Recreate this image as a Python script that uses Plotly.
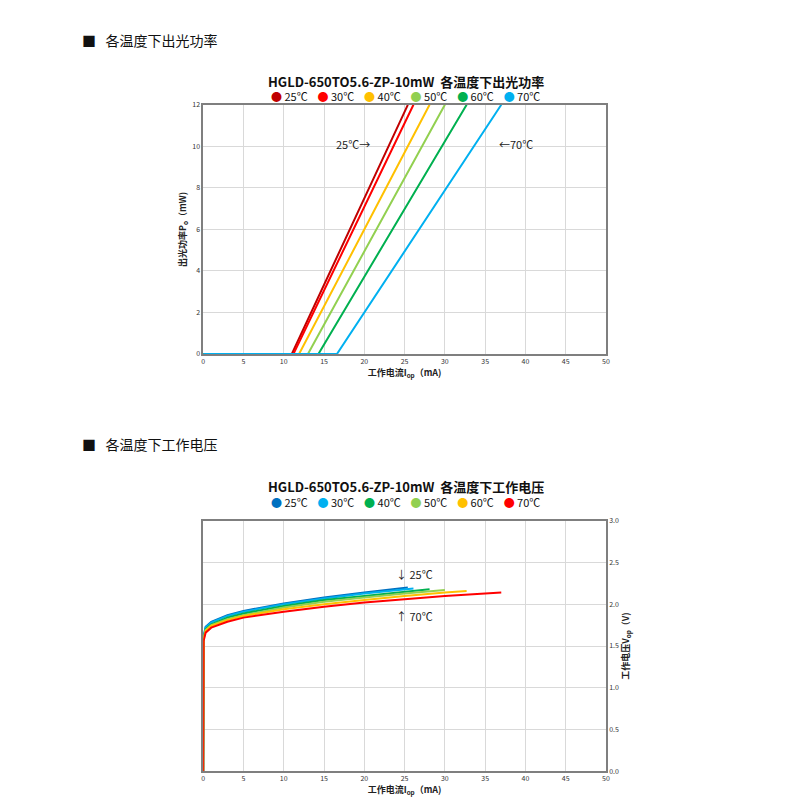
import plotly.graph_objects as go

# --- datos: potencia óptica vs corriente ---
temps = ["25℃", "30℃", "40℃", "50℃", "60℃", "70℃"]
p_colors = ["#c00000", "#ff0000", "#ffc000", "#92d050", "#00b050", "#00b0f0"]
p_thresh = [11.0, 11.2, 11.9, 13.0, 14.3, 16.6]
p_end = [25.4, 26.1, 28.1, 30.0, 32.7, 37.0]
p_max = 12

# --- datos: tensión vs corriente ---
v_colors = ["#0070c0", "#00b0f0", "#00b050", "#92d050", "#ffc000", "#ff0000"]
v_x = [
    [0, 0.05, 0.3, 1, 3, 5, 10, 15, 20, 25.4],
    [0, 0.05, 0.3, 1, 3, 5, 10, 15, 20, 26.1],
    [0, 0.05, 0.3, 1, 3, 5, 10, 15, 20, 25, 28.1],
    [0, 0.05, 0.3, 1, 3, 5, 10, 15, 20, 25, 30.0],
    [0, 0.05, 0.3, 1, 3, 5, 10, 15, 20, 25, 30, 32.7],
    [0, 0.05, 0.3, 1, 3, 5, 10, 15, 20, 25, 30, 37.0],
]
v_y = [
    [0, 1.62, 1.73, 1.79, 1.87, 1.92, 2.01, 2.08, 2.14, 2.20],
    [0, 1.61, 1.72, 1.78, 1.86, 1.91, 2.00, 2.07, 2.13, 2.19],
    [0, 1.60, 1.70, 1.76, 1.84, 1.89, 1.98, 2.05, 2.10, 2.15, 2.18],
    [0, 1.59, 1.69, 1.75, 1.82, 1.87, 1.96, 2.03, 2.08, 2.13, 2.17],
    [0, 1.58, 1.68, 1.74, 1.81, 1.86, 1.94, 2.00, 2.05, 2.10, 2.14, 2.16],
    [0, 1.56, 1.66, 1.72, 1.79, 1.84, 1.91, 1.97, 2.02, 2.06, 2.10, 2.14],
]

fig = go.Figure()

# Curvas de potencia
for t, c, th, e in zip(temps, p_colors, p_thresh, p_end):
    fig.add_trace(go.Scatter(x=[0, th, e], y=[0, 0, p_max], mode="lines", name=t, showlegend=False,
                             line=dict(color=c, width=2), xaxis="x", yaxis="y"))

# Curvas de tensión
for t, c, xs, ys in zip(temps, v_colors, v_x, v_y):
    fig.add_trace(go.Scatter(x=xs, y=ys, mode="lines", name=t, showlegend=False,
                             line=dict(color=c, width=2), xaxis="x2", yaxis="y2"))

dom_x = [0.244, 0.7475]
ax_common = dict(showgrid=True, gridcolor="#d9d9d9", zeroline=False, showline=True, mirror=True,
                 linecolor="#7f7f7f", linewidth=1.5, automargin=False,
                 tickfont=dict(size=7, color="#333"))

fig.update_layout(
    width=800, height=800, margin=dict(l=0, r=0, t=0, b=0),
    paper_bgcolor="white", plot_bgcolor="white",
    font=dict(family="Noto Sans CJK SC", color="#222"),
    xaxis=dict(domain=dom_x, anchor="y", range=[0, 50], dtick=5, **ax_common,
               title=dict(text="<b>工作电流I<sub>op</sub>（mA)</b>", font=dict(size=9), standoff=2)),
    yaxis=dict(domain=[0.5675, 0.879], anchor="x", range=[0, 12], dtick=2, **ax_common,
               title=dict(text="<b>出光功率P<sub>o</sub>（mW)</b>", font=dict(size=9), standoff=4)),
    xaxis2=dict(domain=dom_x, anchor="y2", range=[0, 50], dtick=5, **ax_common,
                title=dict(text="<b>工作电流I<sub>op</sub>（mA)</b>", font=dict(size=9), standoff=2)),
    yaxis2=dict(domain=[0.046, 0.359], anchor="x2", side="right", range=[0, 3], dtick=0.5,
                tickformat=".1f", **ax_common,
                title=dict(text="<b>工作电压V<sub>op</sub>（V)</b>", font=dict(size=9), standoff=4)),
)


def legend_text(colors):
    return "    ".join(f"<span style='color:{c}'>●</span> {t}" for t, c in zip(temps, colors))


annots = [
    dict(x=0.09, y=0.975, text="■   各温度下出光功率", size=14),
    dict(x=0.09, y=0.455, text="■   各温度下工作电压", size=14),
    dict(x=0.497, y=0.922, text="<b>HGLD-650TO5.6-ZP-10mW  各温度下出光功率</b>", size=13, xanchor="center"),
    dict(x=0.497, y=0.402, text="<b>HGLD-650TO5.6-ZP-10mW  各温度下工作电压</b>", size=13, xanchor="center"),
    dict(x=0.497, y=0.903, text=legend_text(p_colors), size=11, xanchor="center"),
    dict(x=0.497, y=0.383, text=legend_text(v_colors), size=11, xanchor="center"),
]
for a in annots:
    fig.add_annotation(xref="paper", yref="paper", showarrow=False, xanchor=a.get("xanchor", "left"),
                       x=a["x"], y=a["y"], text=a["text"], font=dict(size=a["size"], color="#111"))

fig.add_annotation(xref="x", yref="y", x=18.6, y=10.1, text="25℃→", showarrow=False, font=dict(size=11, color="#222"))
fig.add_annotation(xref="x", yref="y", x=38.8, y=10.1, text="←70℃", showarrow=False, font=dict(size=11, color="#222"))
fig.add_annotation(xref="x2", yref="y2", x=26.2, y=2.36, text="↓ 25℃", showarrow=False, font=dict(size=11, color="#222"))
fig.add_annotation(xref="x2", yref="y2", x=26.2, y=1.86, text="↑ 70℃", showarrow=False, font=dict(size=11, color="#222"))

fig.write_html("out.html")
